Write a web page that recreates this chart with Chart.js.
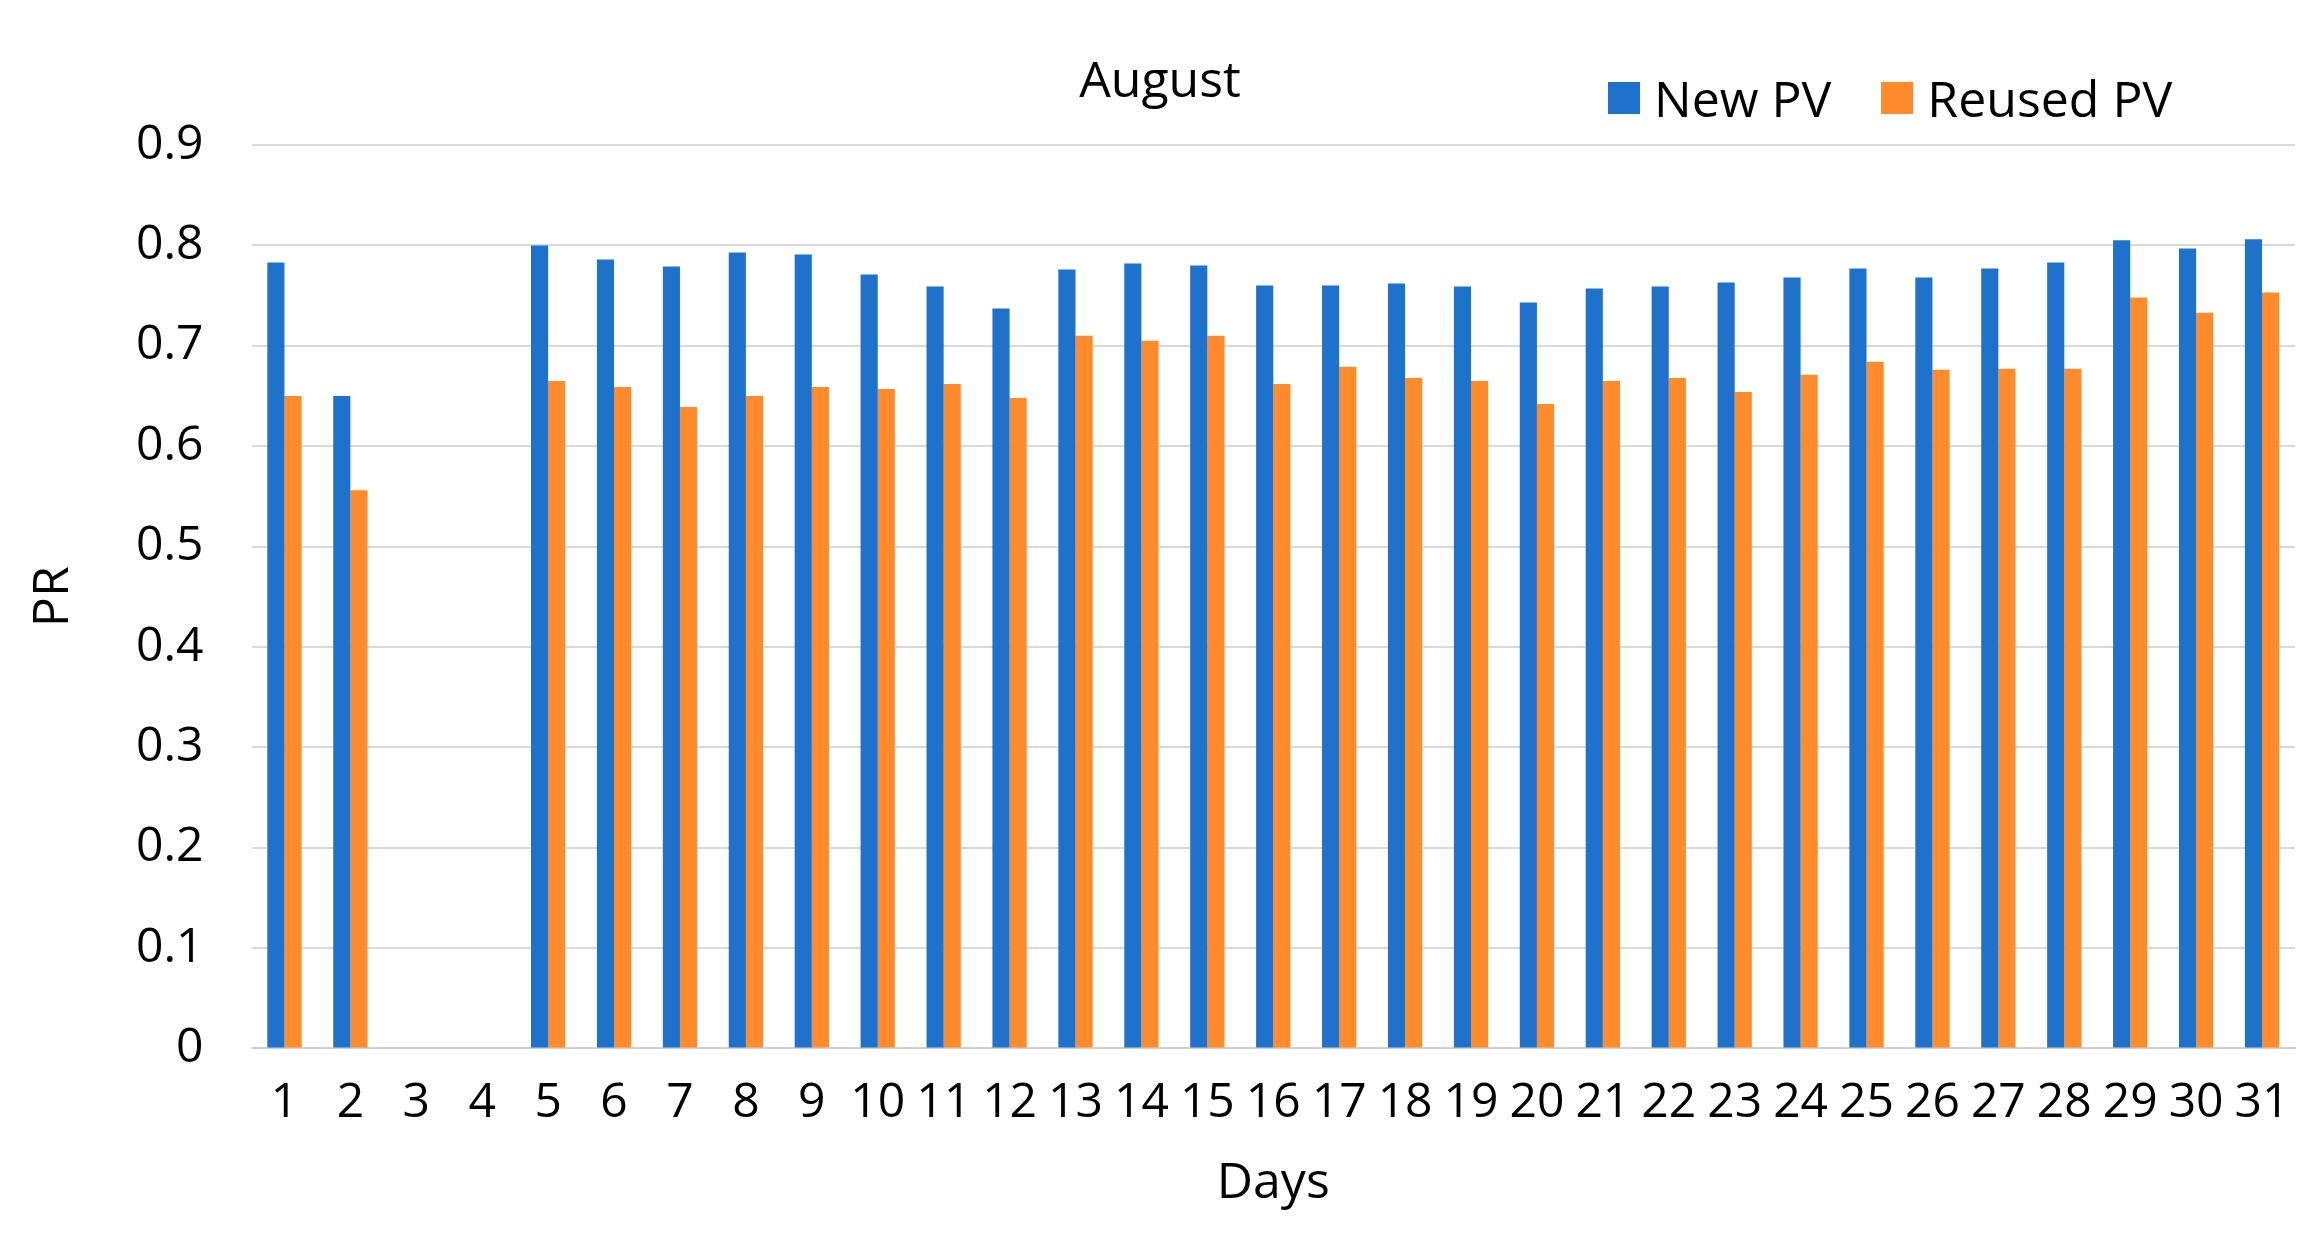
<!DOCTYPE html>
<html>
<head>
<meta charset="utf-8">
<script src="https://cdn.jsdelivr.net/npm/chart.js@4"></script>
<style>
  html, body { margin: 0; padding: 0; background: #fff; }
  #wrap { position: relative; width: 2320px; height: 1248px; font-family: "Open Sans", sans-serif; color: #000; }
  #title { position: absolute; left: 1160px; top: 44px; transform: translateX(-50%); font-size: 50px; }
  #legend { position: absolute; left: 1608px; top: 64px; font-size: 50px; display: flex; align-items: center; }
  #legend .sw { display: inline-block; width: 32px; height: 32px; margin-right: 14px; }
  #legend .item { display: flex; align-items: center; margin-right: 50px; }
</style>
</head>
<body>
<div id="wrap">
  <canvas id="chart" width="2320" height="1248"></canvas>
  <div id="title">August</div>
  <div id="legend"></div>
</div>
<script>
const days = Array.from({ length: 31 }, (_, i) => String(i + 1));
const newPV = [0.783, 0.650, null, null, 0.800, 0.786, 0.779, 0.793, 0.791, 0.771,
               0.759, 0.737, 0.776, 0.782, 0.780, 0.760, 0.760, 0.762, 0.759, 0.743,
               0.757, 0.759, 0.763, 0.768, 0.777, 0.768, 0.777, 0.783, 0.805, 0.797, 0.806];
const reusedPV = [0.650, 0.556, null, null, 0.665, 0.659, 0.639, 0.650, 0.659, 0.657,
                  0.662, 0.648, 0.710, 0.705, 0.710, 0.662, 0.679, 0.668, 0.665, 0.642,
                  0.665, 0.668, 0.654, 0.671, 0.684, 0.676, 0.677, 0.677, 0.748, 0.733, 0.753];
const yTicks = [0, 0.1, 0.2, 0.3, 0.4, 0.5, 0.6, 0.7, 0.8, 0.9];

const font = 'Open Sans';
const chart = new Chart(document.getElementById('chart').getContext('2d'), {
    type: 'bar',
    data: {
        labels: days,
        datasets: [
            { label: 'New PV', data: newPV, backgroundColor: '#1F72CC' },
            { label: 'Reused PV', data: reusedPV, backgroundColor: '#FF8B2C' }
        ]
    },
    options: {
        responsive: false,
        animation: false,
        layout: { padding: { left: 20, right: 25, top: 145, bottom: 30 } },
        datasets: { bar: { categoryPercentage: 0.52, barPercentage: 1.0 } },
        plugins: {
            legend: { display: false },
            tooltip: { enabled: false }
        },
        scales: {
            x: {
                grid: { display: false },
                border: { color: '#d0d0d0', width: 2 },
                ticks: { font: { family: font, size: 48 }, color: '#000', maxRotation: 0, autoSkip: false, padding: 18 },
                title: { display: true, text: 'Days', font: { family: font, size: 50 }, color: '#000' }
            },
            y: {
                min: 0, max: 0.9,
                afterBuildTicks: axis => { axis.ticks = yTicks.map(v => ({ value: v })); },
                grid: { color: '#d9d9d9', lineWidth: 2, drawTicks: false },
                border: { display: false },
                ticks: { font: { family: font, size: 48 }, color: '#000', padding: 48 },
                title: { display: true, text: 'PR', font: { family: font, size: 50 }, color: '#000' }
            }
        }
    }
});

const legend = document.getElementById('legend');
chart.data.datasets.forEach(ds => {
    const item = document.createElement('span');
    item.className = 'item';
    const sw = document.createElement('span');
    sw.className = 'sw';
    sw.style.background = ds.backgroundColor;
    item.appendChild(sw);
    item.appendChild(document.createTextNode(ds.label));
    legend.appendChild(item);
});
</script>
</body>
</html>
